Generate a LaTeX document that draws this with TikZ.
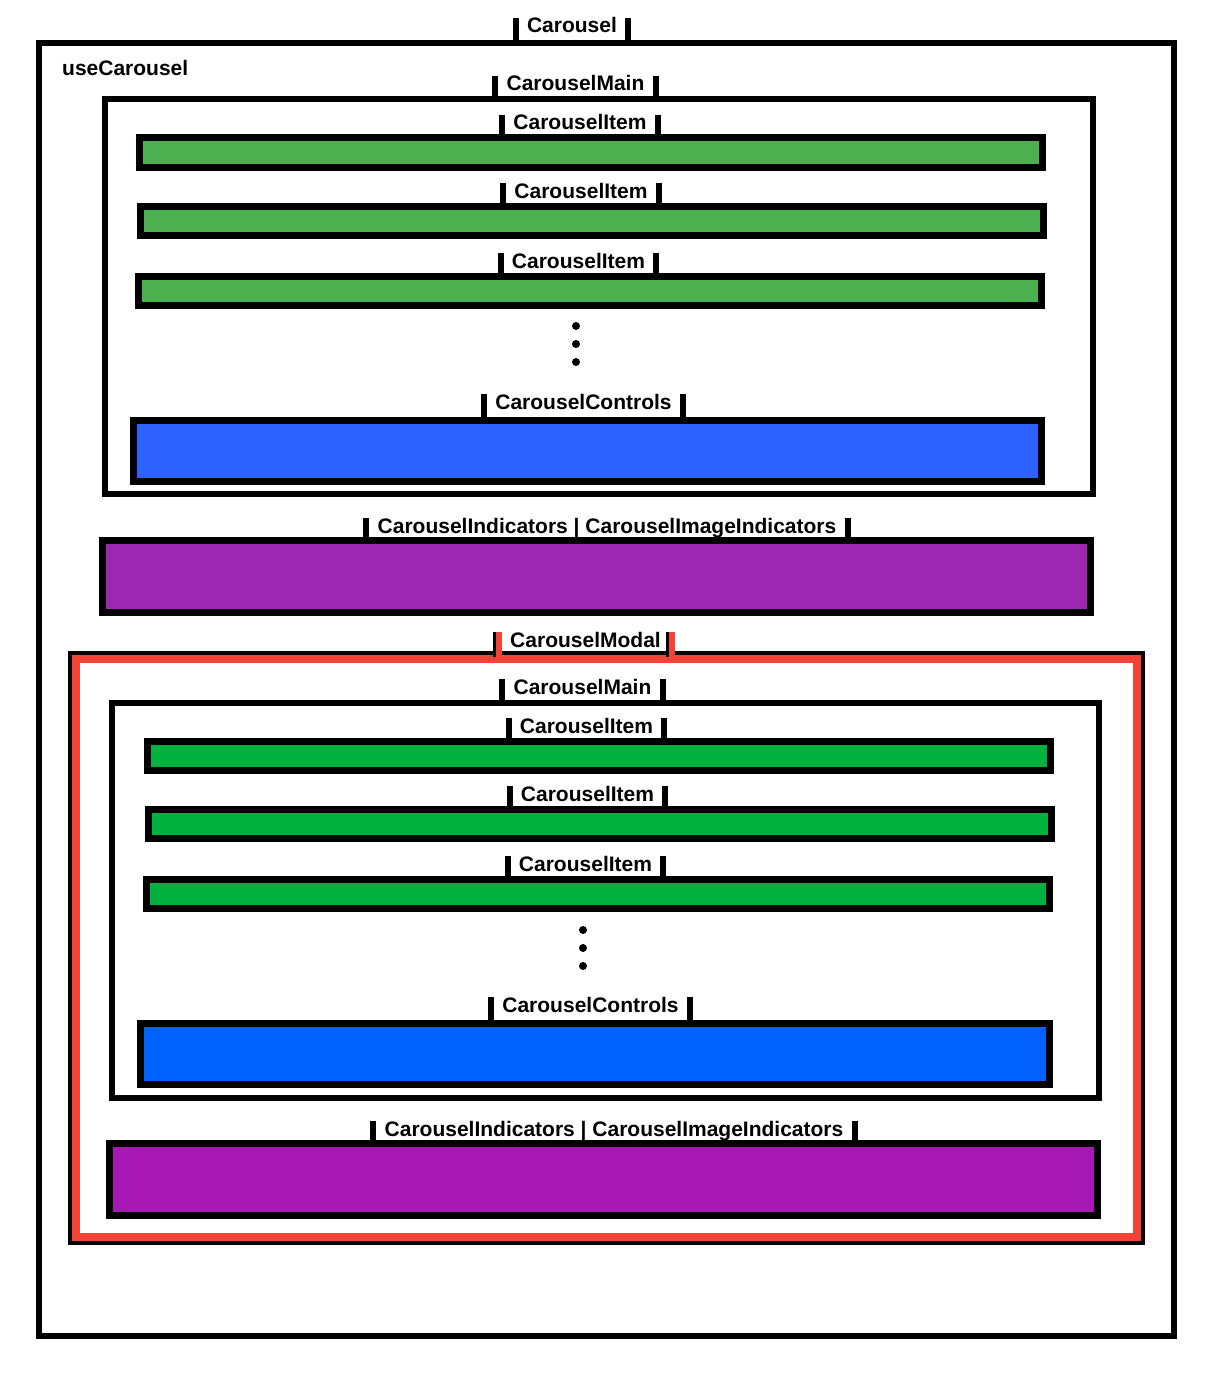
\documentclass[tikz,border=0pt]{standalone}
\usepackage{fontspec}
\setmainfont{Liberation Sans}
\usetikzlibrary{fit}
\definecolor{greenA}{RGB}{76,175,80}
\definecolor{blueA}{RGB}{46,98,255}
\definecolor{purpleA}{RGB}{156,39,176}
\definecolor{greenB}{RGB}{0,177,64}
\definecolor{blueB}{RGB}{0,97,254}
\definecolor{purpleB}{RGB}{168,24,181}
\definecolor{modalred}{RGB}{244,67,54}
\tikzset{
  panel/.style={draw=black, inner sep=0pt, outer sep=0pt},
  outerframe/.style={panel, line width=6pt},
  mainframe/.style={panel, line width=5.5pt},
  bar/.style={panel, line width=7pt},
  lbl/.style={font=\bfseries\fontsize{21}{24}\selectfont, inner xsep=11pt, inner ysep=0pt, anchor=base},
  tagbar/.style={line width=6pt},
}
% label with two short bars standing on the top edge of a box
\newcommand\tagged[5][black]{%
  \node[lbl] (#2) at (#3) {#5};
  \draw[tagbar,#1] ([yshift=15pt]#2.base west) -- (#2.base west |- #4.north);
  \draw[tagbar,#1] ([yshift=15pt]#2.base east) -- (#2.base east |- #4.north);
}
\begin{document}
\begin{tikzpicture}[x=1pt,y=-1pt]
\useasboundingbox[fill=white] (0,0) rectangle (1227,1378);

% Carousel
\node[outerframe, fit={(39,43) (1174,1336)}] (carousel) {};
\tagged{carousellbl}{572,33}{carousel}{Carousel}
\node[lbl, anchor=base west, inner xsep=0pt] (usecarousel) at (62,76) {useCarousel};

% CarouselMain
\node[mainframe, fit={(105,99) (1093,494)}] (mainA) {};
\tagged{mainAlbl}{575.5,91}{mainA}{CarouselMain}

\node[bar, fill=greenA, fit={(139.5,137.5) (1042.5,167.5)}] (itemA1) {};
\tagged{itemA1lbl}{580,130}{itemA1}{CarouselItem}
\node[bar, fill=greenA, fit={(140.5,206.5) (1043.5,235.5)}] (itemA2) {};
\tagged{itemA2lbl}{581,198}{itemA2}{CarouselItem}
\node[bar, fill=greenA, fit={(138.5,276.5) (1041.5,305.5)}] (itemA3) {};
\tagged{itemA3lbl}{578.5,268}{itemA3}{CarouselItem}

\foreach \yy in {326,344,362} \fill (576,\yy) circle[radius=4pt];

\node[bar, fill=blueA, fit={(133.5,420.5) (1041.5,481.5)}] (controlsA) {};
\tagged{controlsAlbl}{583.5,409}{controlsA}{CarouselControls}

% CarouselIndicators
\node[bar, fill=purpleA, fit={(102.5,540.5) (1090.5,612.5)}] (indA) {};
\tagged{indAlbl}{607,533}{indA}{CarouselIndicators | CarouselImageIndicators}

% CarouselModal
\node[panel, line width=12pt, fit={(74,657) (1139,1239)}] (modal) {};
\draw[modalred, line width=8pt] ([xshift=2pt,yshift=-2pt]modal.north west) rectangle ([xshift=-2pt,yshift=2pt]modal.south east);
\node[lbl] (modallbl) at (585.5,647) {CarouselModal};
\foreach \side in {base west, base east}{
  \draw[tagbar, line width=4pt] ([xshift=-4pt,yshift=15pt]modallbl.\side) -- ([xshift=-4pt]modallbl.\side |- modal.north);
  \draw[tagbar, modalred] ([yshift=15pt]modallbl.\side) -- ([yshift=-2pt]modallbl.\side |- modal.north);
}

\node[mainframe, fit={(112,703) (1099,1098)}] (mainB) {};
\tagged{mainBlbl}{582.5,694}{mainB}{CarouselMain}

\node[bar, fill=greenB, fit={(147.5,741.5) (1050.5,770.5)}] (itemB1) {};
\tagged{itemB1lbl}{586.5,733}{itemB1}{CarouselItem}
\node[bar, fill=greenB, fit={(148.5,809.5) (1051.5,838.5)}] (itemB2) {};
\tagged{itemB2lbl}{587.5,801}{itemB2}{CarouselItem}
\node[bar, fill=greenB, fit={(146.5,879.5) (1049.5,908.5)}] (itemB3) {};
\tagged{itemB3lbl}{585.5,871}{itemB3}{CarouselItem}

\foreach \yy in {930,948,966} \fill (583,\yy) circle[radius=4pt];

\node[bar, fill=blueB, fit={(140.5,1023.5) (1049.5,1084.5)}] (controlsB) {};
\tagged{controlsBlbl}{590.5,1012}{controlsB}{CarouselControls}

\node[bar, fill=purpleB, fit={(109.5,1143.5) (1097.5,1215.5)}] (indB) {};
\tagged{indBlbl}{614,1136}{indB}{CarouselIndicators | CarouselImageIndicators}
\end{tikzpicture}
\end{document}
